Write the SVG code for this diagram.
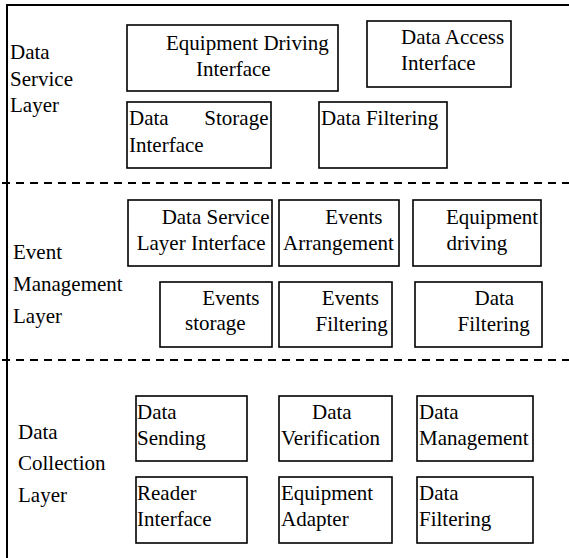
<svg xmlns="http://www.w3.org/2000/svg" width="569" height="558" viewBox="0 0 569 558">
<style>
text{font-family:"Liberation Serif",Tinos,"Times New Roman","Noto Serif","DejaVu Serif",serif;font-size:21px;fill:#000}
.box{fill:#fff;stroke:#000;stroke-width:1.6}
.frame{stroke:#000;stroke-width:2;fill:none}
.dash{stroke:#000;stroke-width:2;stroke-dasharray:8 6;fill:none}
</style>
<rect width="569" height="558" fill="#fff"/>
<g id="frame">
<line class="frame" x1="6" y1="5" x2="569" y2="5"/>
<line class="frame" x1="7" y1="4" x2="7" y2="558"/>
<line class="dash" x1="2" y1="183" x2="569" y2="183"/>
<line class="dash" x1="2" y1="360" x2="569" y2="360"/>
</g>
<g id="layer-labels" font-family="Liberation Serif, DejaVu Serif, serif">
<text x="10" y="59">Data</text><text x="10" y="85.5">Service</text><text x="10" y="112">Layer</text>
<text x="13" y="259">Event</text><text x="13" y="291">Management</text><text x="13" y="323">Layer</text>
<text x="18" y="438.5">Data</text><text x="18" y="470">Collection</text><text x="18" y="502">Layer</text>
</g>
<g id="connectors"></g>
<g id="n-equip-driving-if"><rect class="box" x="127" y="25" width="211" height="66"/><text x="166" y="49.5">Equipment Driving</text><text x="196" y="75.5">Interface</text></g>
<g id="n-data-access-if"><rect class="box" x="367" y="21" width="144" height="66"/><text x="401" y="44">Data Access</text><text x="401" y="70">Interface</text></g>
<g id="n-data-storage-if"><rect class="box" x="127" y="102" width="144" height="66"/><text x="129" y="125">Data</text><text x="268.5" y="125" text-anchor="end">Storage</text><text x="129" y="151.5">Interface</text></g>
<g id="n-data-filtering-1"><rect class="box" x="319" y="102" width="128" height="66"/><text x="321" y="125">Data Filtering</text></g>
<g id="n-dsl-if"><rect class="box" x="128" y="200" width="144" height="66"/><text x="269.5" y="223.5" text-anchor="end">Data Service</text><text x="265.5" y="249.5" text-anchor="end">Layer Interface</text></g>
<g id="n-events-arr"><rect class="box" x="279" y="200" width="120" height="66"/><text x="382.5" y="223.5" text-anchor="end">Events</text><text x="283" y="249.5">Arrangement</text></g>
<g id="n-equip-driving"><rect class="box" x="413" y="200" width="128" height="66"/><text x="446" y="223.5">Equipment</text><text x="446.5" y="249.5">driving</text></g>
<g id="n-events-storage"><rect class="box" x="160" y="282" width="112" height="65"/><text x="259.5" y="305" text-anchor="end">Events</text><text x="185" y="330">storage</text></g>
<g id="n-events-filtering"><rect class="box" x="279" y="282" width="113" height="65"/><text x="379" y="305" text-anchor="end">Events</text><text x="315.5" y="330.5">Filtering</text></g>
<g id="n-data-filtering-2"><rect class="box" x="415" y="282" width="127" height="65"/><text x="474.5" y="305">Data</text><text x="457.5" y="330.5">Filtering</text></g>
<g id="n-data-sending"><rect class="box" x="136" y="396" width="111" height="65"/><text x="137" y="418.5">Data</text><text x="137" y="444.5">Sending</text></g>
<g id="n-data-verif"><rect class="box" x="279" y="396" width="113" height="65"/><text x="312" y="418.5">Data</text><text x="281" y="444.5">Verification</text></g>
<g id="n-data-mgmt"><rect class="box" x="417" y="396" width="116" height="65"/><text x="419" y="418.5">Data</text><text x="419" y="444.5">Management</text></g>
<g id="n-reader-if"><rect class="box" x="136" y="477" width="111" height="66"/><text x="137" y="499.5">Reader</text><text x="137" y="526">Interface</text></g>
<g id="n-equip-adapter"><rect class="box" x="279" y="477" width="113" height="66"/><text x="281" y="499.5">Equipment</text><text x="281" y="526">Adapter</text></g>
<g id="n-data-filtering-3"><rect class="box" x="417" y="477" width="116" height="66"/><text x="419" y="499.5">Data</text><text x="419" y="526">Filtering</text></g>
</svg>
